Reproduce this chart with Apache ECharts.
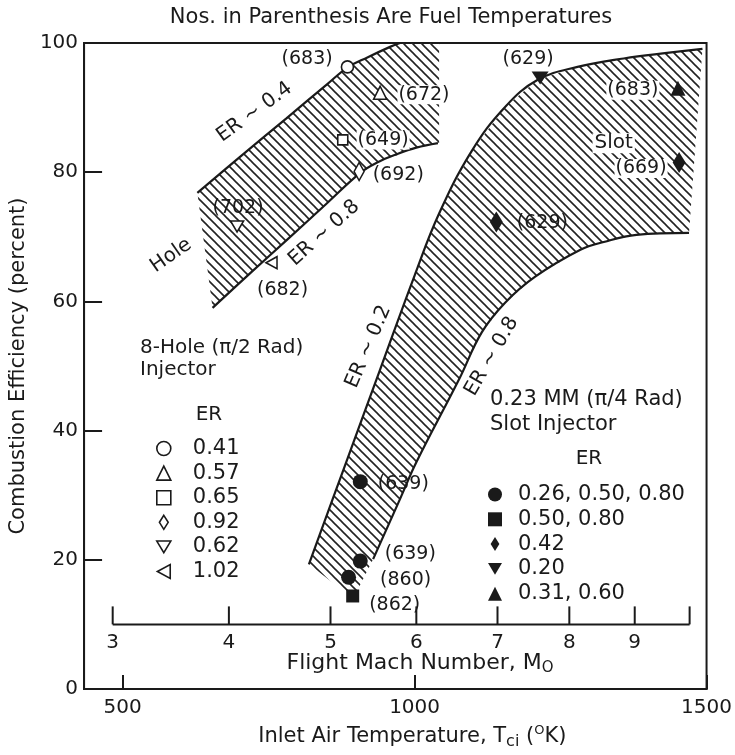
<!DOCTYPE html>
<html><head><meta charset="utf-8">
<script src="https://cdn.jsdelivr.net/npm/echarts@6/dist/echarts.min.js"></script>
<style>html,body{margin:0;padding:0;background:#fff}#c{width:735px;height:755px}</style>
</head><body><div id="c"></div>
<script>
// ---------- data ----------
const xTickLabels = [500, 1000, 1500];
const machLabels = ['3', '4', '5', '6', '7', '8', '9', ''];
const machTemp = [483, 682, 856, 1003, 1142, 1265, 1377, 1471];
const machAxisEff = 10;

const holeUpper = [[628,76.8],[700,82.3],[780,88.3],[850,93.6],[885,96.2],[920,97.8],[958,99.4],[975,100]];
const holeLower = [[654,59.0],[720,64.5],[780,69.4],[850,75.2],[907,79.9],[936,81.5],[970,82.8],[1003,83.8],[1040,84.5]];
const holeBandEdge = [[1042,100],[1042,84.5]];

const slotUpper = [[819,19.3],[880,34.4],[940,49.2],[1000,64.0],[1042,73.6],[1098,83.3],[1155,90.1],[1211,94.3],[1279,96.3],[1358,97.6],[1436,98.5],[1493,99.1]];
const slotLower = [[929,20.1],[975,29.4],[1003,35.1],[1076,47.9],[1115,55.2],[1155,59.8],[1206,63.8],[1284,68.0],[1324,69.2],[1380,70.3],[1470,70.6]];
const slotBandBottom = [[895,14],[819,19.3]];

const holeER = ['0.41', '0.57', '0.65', '0.92', '0.62', '1.02'];
const holeTemp = [885, 941, 877, 905, 696, 755];
const holeEff = [96.3, 92.3, 85.0, 80.1, 71.6, 66.0];
const holeFuel = [683, 672, 649, 692, 702, 682];

const slotNames = ['0.26, 0.50, 0.80', '0.50, 0.80', '0.42', '0.20', '0.31, 0.60'];
const slotER = ['0.26, 0.50, 0.80', '0.26, 0.50, 0.80', '0.26, 0.50, 0.80', '0.50, 0.80', '0.42', '0.42', '0.20', '0.31, 0.60'];
const slotTemp = [907, 907, 887, 894, 1140, 1453, 1215, 1451];
const slotEff = [32.1, 19.8, 17.3, 14.4, 72.3, 81.5, 94.6, 93.0];
const slotFuel = [639, 639, 860, 862, 629, 669, 629, 683];

const noteText = ['ER ~ 0.4', 'ER ~ 0.8', 'Hole', 'ER ~ 0.2', 'ER ~ 0.8', 'Slot'];
const noteTemp = [726, 845, 583, 921, 1132, 1341];
const noteEff = [89.3, 70.6, 67.1, 53.0, 51.5, 84.5];

// ---------- styles ----------
const ink = '#1a1a1a';
const FF = 'DejaVu Sans';
const noteAngle = [36, 42, 35, 67, 60, 0];
const noteBg = [false, false, false, false, false, true];

const symDiamond = 'path://M5 0L10 8L5 16L0 8Z';
const symDown = 'path://M0 0L12 0L6 10Z';
const symLeft = 'path://M0 6L11 0L11 12Z';
const holeSymbol = {'0.41':['circle',12], '0.57':['triangle',13], '0.65':['rect',10], '0.92':[symDiamond,[10,18]], '0.62':[symDown,[13,11]], '1.02':[symLeft,[11,12]]};
const slotSymbol = {'0.26, 0.50, 0.80':['circle',15], '0.50, 0.80':['rect',13], '0.42':[symDiamond,[13,21]], '0.20':[symDown,[17,13]], '0.31, 0.60':['triangle',15]};

const holeLabelLayout = [
  {position:'left', distance:8, offset:[0,-8]},
  {position:'right', distance:10, offset:[0,2], bg:true},
  {position:'right', distance:8, offset:[0,0], bg:true},
  {position:'right', distance:8, offset:[0,4]},
  {position:'top', distance:3, offset:[1,0]},
  {position:'bottom', distance:11, offset:[11,0]}
];
const slotLabelLayout = [
  {position:'right', distance:10, offset:[0,2]},
  {position:'right', distance:17, offset:[0,-7]},
  {position:'right', distance:24, offset:[0,3]},
  {position:'right', distance:10, offset:[0,9]},
  {position:'right', distance:14, offset:[0,1]},
  {position:'left', distance:5, offset:[0,6], bg:true},
  {position:'top', distance:3, offset:[-12,0]},
  {position:'left', distance:11, offset:[0,2], bg:true}
];

function hatchCanvas() {
  const s = 9;
  const c = document.createElement('canvas');
  c.width = s; c.height = s;
  const g = c.getContext('2d');
  g.strokeStyle = '#222';
  g.lineWidth = 1.6;
  for (let k = -1; k <= 1; k++) {
    g.beginPath(); g.moveTo(k * s - 1, -1); g.lineTo(k * s + s + 1, s + 1); g.stroke();
  }
  return c;
}
const hatch = {image: hatchCanvas(), repeat: 'repeat'};

function bandSeries(poly) {
  return {
    type: 'custom', silent: true, z: 1,
    data: [[poly[0][0], poly[0][1]]],
    renderItem: function (params, api) {
      return {type: 'polygon', shape: {points: poly.map(p => api.coord(p))}, style: {fill: hatch, stroke: null}};
    }
  };
}
function boundary(data) {
  return {type: 'line', data: data, smooth: 0.4, symbol: 'none', silent: true, z: 3,
    lineStyle: {color: ink, width: 2.2}};
}
function labelFor(layout, fuel) {
  const l = {show: true, position: layout.position, distance: layout.distance, offset: layout.offset,
    formatter: '(' + fuel + ')', fontFamily: FF, fontSize: 19, color: ink, opacity: 1};
  if (layout.bg) { l.backgroundColor = '#fff'; l.padding = [0, 1]; }
  return l;
}

const series = [];
const holePoly = holeUpper.concat(holeBandEdge, holeLower.slice().reverse());
const slotPoly = slotUpper.concat(slotLower.slice().reverse(), slotBandBottom);
series.push(bandSeries(holePoly), bandSeries(slotPoly));
series.push(boundary(holeUpper), boundary(holeLower), boundary(slotUpper), boundary(slotLower));

// Mach number axis drawn inside the plot
series.push({type: 'line', data: [[machTemp[0], machAxisEff], [machTemp[machTemp.length - 1], machAxisEff]],
  symbol: 'none', silent: true, z: 3, lineStyle: {color: ink, width: 2}});
series.push({
  type: 'custom', silent: true, z: 4,
  data: machTemp.map(t => [t, machAxisEff]),
  renderItem: function (params, api) {
    const p = api.coord([api.value(0), api.value(1)]);
    return {type: 'group', children: [
      {type: 'line', shape: {x1: p[0], y1: p[1], x2: p[0], y2: p[1] - 18}, style: {stroke: ink, lineWidth: 2}},
      {type: 'text', x: p[0], y: p[1] + 18, style: {text: machLabels[params.dataIndex], font: '20px "DejaVu Sans"', fill: ink, align: 'center', verticalAlign: 'middle'}}
    ]};
  }
});

holeER.forEach(function (name, i) {
  series.push({
    type: 'scatter', name: name, symbol: holeSymbol[name][0], symbolSize: holeSymbol[name][1], z: 5,
    itemStyle: {color: '#fff', borderColor: ink, borderWidth: 1.6, opacity: 1},
    data: [{value: [holeTemp[i], holeEff[i]], label: labelFor(holeLabelLayout[i], holeFuel[i])}]
  });
});
slotNames.forEach(function (name) {
  const data = [];
  slotER.forEach(function (er, i) {
    if (er === name) data.push({value: [slotTemp[i], slotEff[i]], label: labelFor(slotLabelLayout[i], slotFuel[i])});
  });
  series.push({
    type: 'scatter', name: name, symbol: slotSymbol[name][0], symbolSize: slotSymbol[name][1], z: 5,
    itemStyle: {color: ink, opacity: 1},
    data: data
  });
});

series.push({
  type: 'custom', silent: true, z: 6,
  data: noteTemp.map((t, i) => [t, noteEff[i]]),
  renderItem: function (params, api) {
    const i = params.dataIndex;
    const p = api.coord([api.value(0), api.value(1)]);
    const st = {text: noteText[i], font: '20px "DejaVu Sans"', fill: ink, align: 'center', verticalAlign: 'middle'};
    if (noteBg[i]) { st.backgroundColor = '#fff'; st.padding = [0, 2]; }
    return {type: 'text', x: p[0], y: p[1], rotation: noteAngle[i] * Math.PI / 180, style: st};
  }
});

const option = {
  backgroundColor: '#fff',
  animation: false,
  grid: {left: 80, right: 24, top: 43, bottom: 65, show: true, borderColor: ink, borderWidth: 2, backgroundColor: 'transparent'},
  xAxis: {
    type: 'value', min: 434, max: 1500,
    axisLine: {show: true, lineStyle: {color: ink, width: 2}},
    axisTick: {show: true, inside: true, length: 14, customValues: xTickLabels, lineStyle: {color: ink, width: 2}},
    axisLabel: {customValues: xTickLabels, formatter: v => String(v), fontFamily: FF, fontSize: 20, color: ink, margin: 9},
    splitLine: {show: false},
    name: '{n|Inlet Air Temperature, T}{sub|ci}{n| (}{sup|O}{n|K)}',
    nameLocation: 'middle', nameGap: 35,
    nameTextStyle: {padding: [0, 0, 0, 34], rich: {
      n: {fontFamily: FF, fontSize: 21, color: ink},
      sub: {fontFamily: FF, fontSize: 16, color: ink, padding: [10, 0, 0, 0]},
      sup: {fontFamily: FF, fontSize: 13, color: ink, padding: [0, 0, 12, 0]}
    }}
  },
  yAxis: {
    type: 'value', min: 0, max: 100, interval: 20,
    axisLine: {show: true, lineStyle: {color: ink, width: 2}},
    axisTick: {show: true, inside: true, length: 18, lineStyle: {color: ink, width: 2}},
    axisLabel: {fontFamily: FF, fontSize: 20, color: ink, margin: 6},
    splitLine: {show: false},
    name: 'Combustion Efficiency (percent)', nameLocation: 'middle', nameGap: 41,
    nameTextStyle: {fontFamily: FF, fontSize: 21, color: ink}
  },
  legend: [
    {data: holeER, orient: 'vertical', left: 156, top: 438, itemWidth: 14, itemHeight: 14, itemGap: 3.6,
      padding: 0, selectedMode: false, textStyle: {fontFamily: FF, fontSize: 21, color: ink, padding: [0, 0, 0, 17]},
      itemStyle: {borderWidth: 1.6}},
    {data: slotNames, orient: 'vertical', left: 488, top: 484, itemWidth: 14, itemHeight: 14, itemGap: 3.8,
      padding: 0, selectedMode: false, textStyle: {fontFamily: FF, fontSize: 21, color: ink, padding: [0, 0, 0, 11]}}
  ],
  graphic: [
    {type: 'text', x: 391, y: 18, style: {text: 'Nos. in Parenthesis Are Fuel Temperatures', font: '21px "DejaVu Sans"', fill: ink, align: 'center', verticalAlign: 'middle'}},
    {type: 'text', x: 140, y: 348, style: {text: '8-Hole (\u03c0/2 Rad)', font: '20px "DejaVu Sans"', fill: ink, align: 'left', verticalAlign: 'middle'}},
    {type: 'text', x: 140, y: 370, style: {text: 'Injector', font: '20px "DejaVu Sans"', fill: ink, align: 'left', verticalAlign: 'middle'}},
    {type: 'text', x: 209, y: 415, style: {text: 'ER', font: '20px "DejaVu Sans"', fill: ink, align: 'center', verticalAlign: 'middle'}},
    {type: 'text', x: 490, y: 400, style: {text: '0.23 MM (\u03c0/4 Rad)', font: '21px "DejaVu Sans"', fill: ink, align: 'left', verticalAlign: 'middle'}},
    {type: 'text', x: 490, y: 425, style: {text: 'Slot Injector', font: '21px "DejaVu Sans"', fill: ink, align: 'left', verticalAlign: 'middle'}},
    {type: 'text', x: 589, y: 459, style: {text: 'ER', font: '20px "DejaVu Sans"', fill: ink, align: 'center', verticalAlign: 'middle'}},
    {type: 'text', x: 420, y: 663, style: {text: '{n|Flight Mach Number, M}{sub|O}', align: 'center', verticalAlign: 'middle',
      rich: {n: {fontFamily: FF, fontSize: 22, fill: ink}, sub: {fontFamily: FF, fontSize: 15, fill: ink, padding: [10, 0, 0, 0]}}}}
  ],
  series: series
};
const chart = echarts.init(document.getElementById('c'), null, {renderer: 'canvas'});
chart.setOption(option);
</script>
</body></html>
